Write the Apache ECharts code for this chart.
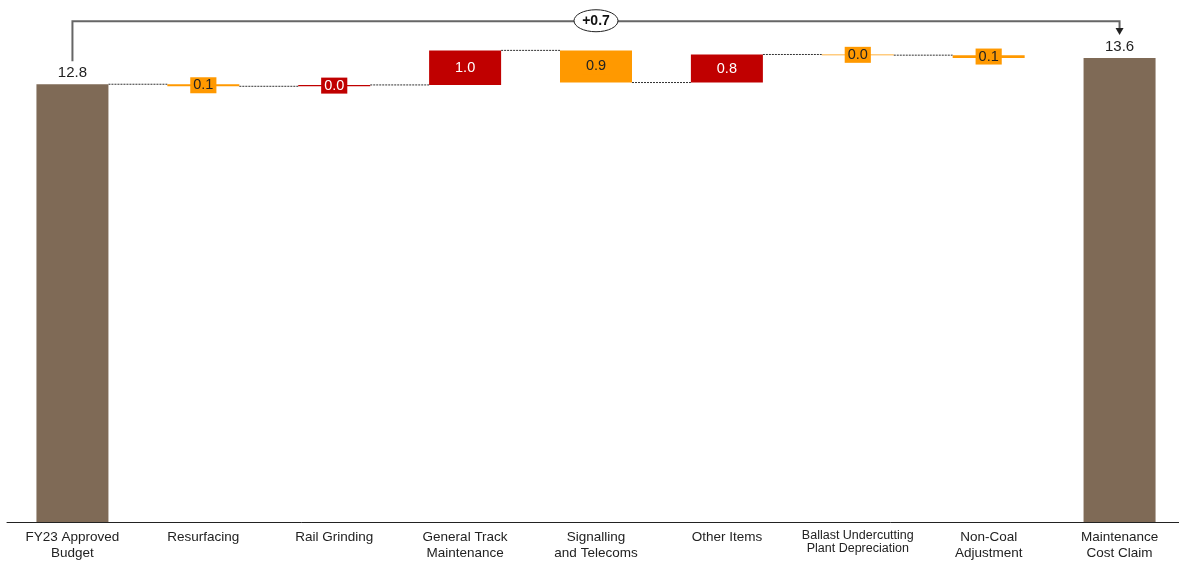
<!DOCTYPE html>
<html>
<head>
<meta charset="utf-8">
<script src="https://cdn.jsdelivr.net/npm/echarts@6/dist/echarts.min.js"></script>
<style>
  html, body { margin: 0; padding: 0; background: #fff; overflow: hidden; }
  #chart { width: 1185px; height: 562px; }
</style>
</head>
<body>
<div id="chart"></div>
<script>
// categories along the x axis
const categories = [
    'FY23 Approved\nBudget', 'Resurfacing', 'Rail Grinding', 'General Track\nMaintenance',
    'Signalling\nand Telecoms', 'Other Items', '{s|Ballast Undercutting}\n{s|Plant Depreciation}',
    'Non-Coal\nAdjustment', 'Maintenance\nCost Claim'
];
// opening budget and the change of each item between it and the claim
const startValue = 12.8;
const changes = [-0.06, 0.04, 1.01, -0.94, 0.82, -0.02, -0.08];
const bracketLabel = '+0.7';

const colTotal = '#7F6A56';
const colUp = '#C00000';
const colDown = '#FF9900';

// build the waterfall from the changes
let level = startValue;
let levels = [startValue];     // running total after each column
let baseData = ['-'];
let deltaData = [];
for (let c of changes) {
    let next = level + c;
    baseData.push(Math.min(level, next));
    deltaData.push(c);
    levels.push(next);
    level = next;
}
const endValue = level;
baseData.push('-');

let totalData = categories.map(() => '-');
totalData[0] = startValue;
totalData[categories.length - 1] = endValue;

let changeData = ['-'];
for (let c of deltaData) {
    let up = c >= 0;
    changeData.push({
        value: Math.abs(c),
        itemStyle: { color: up ? colUp : colDown },
        label: {
            backgroundColor: up ? colUp : colDown,
            color: up ? '#fff' : '#222'
        }
    });
}
changeData.push('-');

// connector lines: from column i at its running level to column i+1
let connectorData = [];
for (let i = 0; i < levels.length; i++) {
    connectorData.push([i, levels[i]]);
}

let chart = echarts.init(document.getElementById('chart'));
chart.setOption({
    animation: false,
    grid: { left: 7, right: 0, top: 9, bottom: 40 },
    xAxis: {
        type: 'category',
        data: categories,
        axisTick: { show: false },
        axisLine: { lineStyle: { color: '#222', width: 1 } },
        axisLabel: {
            interval: 0,
            color: '#222',
            fontFamily: 'Liberation Sans, Arial',
            fontSize: 13.5,
            lineHeight: 16,
            margin: 7,
            rich: {
                s: {
                    fontFamily: 'Liberation Sans Narrow, Liberation Sans',
                    fontSize: 12.5,
                    lineHeight: 13,
                    color: '#222'
                }
            }
        }
    },
    yAxis: { type: 'value', min: 0, max: 15, show: false },
    series: [
        {
            type: 'bar',
            stack: 'wf',
            barWidth: 72,
            itemStyle: { color: 'transparent' },
            silent: true,
            data: baseData
        },
        {
            type: 'bar',
            stack: 'wf',
            barWidth: 72,
            data: changeData,
            label: {
                show: true,
                position: 'inside',
                fontFamily: 'Liberation Sans, Arial',
                fontSize: 14.5,
                lineHeight: 16,
                padding: [0, 3],
                formatter: p => p.value.toFixed(1)
            }
        },
        {
            type: 'bar',
            stack: 'wf',
            barWidth: 72,
            itemStyle: { color: colTotal },
            data: totalData,
            label: {
                show: true,
                position: 'top',
                distance: 4,
                color: '#222',
                fontFamily: 'Liberation Sans, Arial',
                fontSize: 15,
                formatter: p => p.value.toFixed(1)
            }
        },
        {
            type: 'custom',
            silent: true,
            data: connectorData.slice(0, connectorData.length - 1),
            renderItem: (params, api) => {
                let i = api.value(0);
                let p1 = api.coord([i, api.value(1)]);
                let p2 = api.coord([i + 1, api.value(1)]);
                return {
                    type: 'line',
                    shape: { x1: p1[0] + 36, y1: p1[1], x2: p2[0] - 36, y2: p2[1] },
                    style: { stroke: '#333', lineWidth: 1, lineDash: [2, 1] }
                };
            },
            z: 1
        },
        {
            type: 'custom',
            silent: true,
            data: [[0, startValue, categories.length - 1, endValue]],
            renderItem: (params, api) => {
                let a = api.coord([api.value(0), api.value(1)]);
                let b = api.coord([api.value(2), api.value(3)]);
                let topY = a[1] - 63;
                let tipY = b[1] - 23;
                let mid = (a[0] + b[0]) / 2;
                return {
                    type: 'group',
                    children: [
                        {
                            type: 'polyline',
                            shape: { points: [[a[0], a[1] - 23], [a[0], topY], [b[0], topY], [b[0], tipY - 6]] },
                            style: { stroke: '#666', lineWidth: 2, fill: null }
                        },
                        {
                            type: 'polygon',
                            shape: { points: [[b[0] - 4, tipY - 7], [b[0] + 4, tipY - 7], [b[0], tipY]] },
                            style: { fill: '#222' }
                        },
                        {
                            type: 'ellipse',
                            shape: { cx: mid, cy: topY - 0.5, rx: 22, ry: 11 },
                            style: { fill: '#fff', stroke: '#222', lineWidth: 1 }
                        },
                        {
                            type: 'text',
                            x: mid,
                            y: topY - 0.5,
                            style: {
                                text: bracketLabel,
                                fill: '#111',
                                fontFamily: 'Liberation Sans, Arial',
                                fontSize: 14,
                                fontWeight: 'bold',
                                align: 'center',
                                verticalAlign: 'middle'
                            }
                        }
                    ]
                };
            },
            z: 5
        }
    ]
});
window.onresize = function () {
    chart.resize();
};
</script>
</body>
</html>
